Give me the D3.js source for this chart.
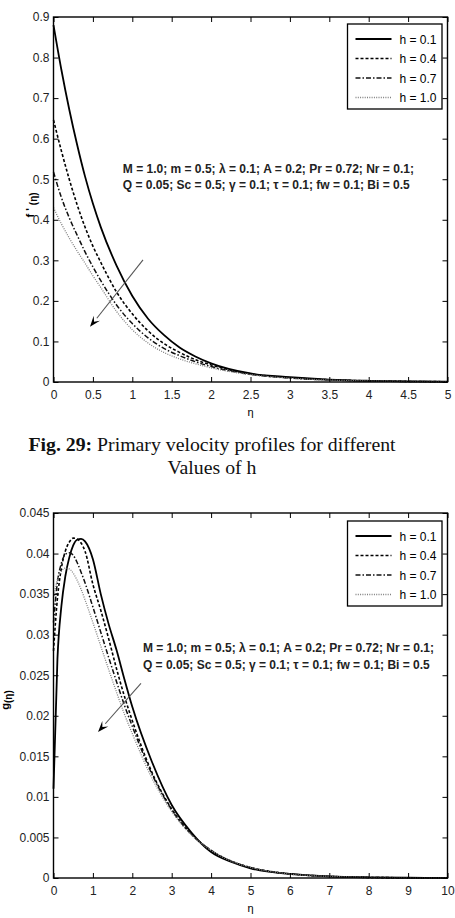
<!DOCTYPE html>
<html>
<head>
<meta charset="utf-8">
<script src="https://cdn.jsdelivr.net/npm/d3@7"></script>
<style>
body { margin: 0; background: #fff; }
svg { display: block; }
.tick text { font-family: "Liberation Sans", Arial, sans-serif; font-size: 12px; fill: #222; }
</style>
</head>
<body>
<svg id="chart" width="455" height="918"></svg>
<script>
// eta grids
const etaTop = [0, 0.1, 0.2, 0.3, 0.4, 0.5, 0.6, 0.8, 1.0, 1.2, 1.4, 1.6, 1.8, 2.0, 2.5, 3.0, 3.5, 4.0, 4.5, 5.0];
const etaBot = [0, 0.1, 0.2, 0.3, 0.4, 0.5, 0.6, 0.7, 0.8, 1.0, 1.2, 1.4, 1.6, 1.8, 2.0, 2.5, 3.0, 3.5, 4.0, 4.5, 5.0, 6.0, 7.0, 8.0, 9.0, 10.0];

const hLabels = ["h = 0.1", "h = 0.4", "h = 0.7", "h = 1.0"];

// primary velocity f'(eta)
const fp_h01 = [0.88, 0.77, 0.672, 0.585, 0.507, 0.44, 0.382, 0.287, 0.212, 0.156, 0.116, 0.085, 0.063, 0.046, 0.021, 0.012, 0.006, 0.003, 0.0014, 0.0007];
const fp_h04 = [0.646, 0.57, 0.50, 0.437, 0.382, 0.335, 0.295, 0.222, 0.168, 0.126, 0.095, 0.073, 0.055, 0.042, 0.020, 0.0105, 0.0055, 0.0028, 0.0014, 0.0007];
const fp_h07 = [0.518, 0.455, 0.405, 0.362, 0.321, 0.284, 0.25, 0.19, 0.144, 0.109, 0.083, 0.065, 0.050, 0.038, 0.019, 0.0098, 0.005, 0.0026, 0.0013, 0.0007];
const fp_h10 = [0.43, 0.39, 0.355, 0.323, 0.293, 0.262, 0.233, 0.174, 0.129, 0.096, 0.073, 0.057, 0.045, 0.035, 0.018, 0.0093, 0.0048, 0.0025, 0.0012, 0.0006];

// secondary velocity g(eta)
const g_h01 = [0.011, 0.027, 0.0335, 0.0372, 0.0395, 0.0410, 0.0417, 0.0418, 0.0415, 0.0393, 0.0350, 0.0313, 0.0281, 0.0245, 0.0211, 0.0143, 0.0090, 0.0056, 0.0032, 0.0020, 0.0012, 0.0005, 0.0002, 0.00008, 0.00003, 0.00001];
const g_h04 = [0.028, 0.0345, 0.0382, 0.0403, 0.0414, 0.0419, 0.0418, 0.0413, 0.0403, 0.0362, 0.0330, 0.0295, 0.0258, 0.0224, 0.0194, 0.0130, 0.0085, 0.0054, 0.0034, 0.0021, 0.0013, 0.0005, 0.0002, 0.00007, 0.00003, 0.00001];
const g_h07 = [0.0315, 0.0365, 0.0388, 0.0399, 0.0401, 0.0398, 0.0389, 0.0377, 0.0364, 0.0334, 0.0303, 0.0272, 0.0242, 0.0213, 0.0187, 0.0128, 0.0084, 0.0054, 0.0034, 0.0021, 0.0013, 0.0005, 0.0002, 0.00007, 0.00003, 0.00001];
const g_h10 = [0.0345, 0.0368, 0.0378, 0.0382, 0.0381, 0.0376, 0.0367, 0.0356, 0.0343, 0.0315, 0.0286, 0.0257, 0.0229, 0.0202, 0.0178, 0.0123, 0.0082, 0.0053, 0.0034, 0.0021, 0.0013, 0.0005, 0.0002, 0.00007, 0.00003, 0.00001];

const topXTicks = [0, 0.5, 1, 1.5, 2, 2.5, 3, 3.5, 4, 4.5, 5];
const topYTicks = [0, 0.1, 0.2, 0.3, 0.4, 0.5, 0.6, 0.7, 0.8, 0.9];
const botXTicks = [0, 1, 2, 3, 4, 5, 6, 7, 8, 9, 10];
const botYTicks = [0, 0.005, 0.01, 0.015, 0.02, 0.025, 0.03, 0.035, 0.04, 0.045];

const paramLine1 = "M = 1.0; m = 0.5; λ = 0.1; A = 0.2; Pr = 0.72; Nr = 0.1;";
const paramLine2 = "Q = 0.05; Sc = 0.5; γ = 0.1; τ = 0.1; fw = 0.1; Bi = 0.5";

// line styles per h
const styles = [
  { stroke: "#000", width: 1.8, dash: null },
  { stroke: "#000", width: 1.6, dash: "3,2" },
  { stroke: "#111", width: 1.5, dash: "5,2,1.5,2" },
  { stroke: "#808080", width: 1.3, dash: "1,1.3" }
];

const svg = d3.select('#chart');

function drawPanel(opt) {
  const x = d3.scaleLinear().domain(opt.xDomain).range([53.5, 447.5]);
  const y = d3.scaleLinear().domain(opt.yDomain).range([opt.bottom, opt.top]);
  const g = svg.append('g');

  // curves
  const line = d3.line().x((d, i) => x(opt.eta[i])).y(d => y(d)).curve(d3.curveMonotoneX);
  opt.series.forEach((s, i) => {
    g.append('path')
      .attr('d', line(s))
      .attr('fill', 'none')
      .attr('stroke', styles[i].stroke)
      .attr('stroke-width', styles[i].width)
      .attr('stroke-dasharray', styles[i].dash);
  });

  // axes, ticks inward on all sides
  const fmt = d => String(d);
  g.append('g').attr('transform', `translate(0,${opt.bottom})`)
    .call(d3.axisBottom(x).tickValues(opt.xTicks).tickSize(-5).tickPadding(8).tickFormat(fmt));
  g.append('g').attr('transform', `translate(0,${opt.top})`)
    .call(d3.axisTop(x).tickValues(opt.xTicks).tickSize(-5).tickFormat(''));
  g.append('g').attr('transform', 'translate(53.5,0)')
    .call(d3.axisLeft(y).tickValues(opt.yTicks).tickSize(-5).tickPadding(4).tickFormat(fmt));
  g.append('g').attr('transform', 'translate(447.5,0)')
    .call(d3.axisRight(y).tickValues(opt.yTicks).tickSize(-5).tickFormat(''));
  g.selectAll('.domain').remove();
  g.selectAll('.tick line').attr('stroke', '#000').attr('stroke-width', 1);

  g.append('rect')
    .attr('x', 53.5).attr('y', opt.top)
    .attr('width', 394).attr('height', opt.bottom - opt.top)
    .attr('fill', 'none').attr('stroke', '#000').attr('stroke-width', 1.4);

  // x label
  g.append('text')
    .attr('x', x((opt.xDomain[0] + opt.xDomain[1]) / 2)).attr('y', opt.bottom + 34)
    .attr('text-anchor', 'middle')
    .style('font-family', 'Liberation Sans, Arial, sans-serif').style('font-size', '11px')
    .text('η');

  // y label
  const yl = g.append('text')
    .attr('transform', `translate(${opt.yLabelX},${opt.yLabelY}) rotate(-90)`)
    .attr('text-anchor', 'middle')
    .style('font-family', 'Liberation Sans, Arial, sans-serif').style('font-size', '11px')
    .style('font-weight', 'bold');
  yl.append('tspan').text(opt.yLabel);
  yl.append('tspan').attr('dy', 3).style('font-size', '10px').text('(η)');

  // legend
  const lx = 347.5, ly = opt.top + opt.legendOffset;
  g.append('rect').attr('x', lx).attr('y', ly).attr('width', 94.5).attr('height', 85)
    .attr('fill', '#fff').attr('stroke', '#000').attr('stroke-width', 1.3);
  hLabels.forEach((lab, i) => {
    const yy = ly + 15 + i * 19.5;
    g.append('line').attr('x1', lx + 8).attr('x2', lx + 44).attr('y1', yy).attr('y2', yy)
      .attr('stroke', styles[i].stroke).attr('stroke-width', styles[i].width)
      .attr('stroke-dasharray', styles[i].dash);
    g.append('text').attr('x', lx + 52).attr('y', yy + 4.5)
      .style('font-family', 'Liberation Sans, Arial, sans-serif').style('font-size', '12px')
      .text(lab);
  });

  // parameter text
  const tx = x(opt.textAt[0]), ty = y(opt.textAt[1]);
  [paramLine1, paramLine2].forEach((t, i) => {
    g.append('text').attr('x', tx).attr('y', ty + i * opt.textGap)
      .style('font-family', 'Liberation Sans, Arial, sans-serif').style('font-size', '12px')
      .style('font-weight', 'bold').attr('fill', '#222')
      .text(t);
  });

  // arrow
  const a = opt.arrow;
  const x1 = x(a[0]), y1 = y(a[1]), x2 = x(a[2]), y2 = y(a[3]);
  const ang = Math.atan2(y2 - y1, x2 - x1);
  const L = 11, W = 4;
  const bx = x2 - L * Math.cos(ang), by = y2 - L * Math.sin(ang);
  g.append('line').attr('x1', x1).attr('y1', y1).attr('x2', bx).attr('y2', by)
    .attr('stroke', '#555').attr('stroke-width', 1.1);
  g.append('path')
    .attr('d', `M${x2},${y2} L${bx - W * Math.sin(ang)},${by + W * Math.cos(ang)} L${x2 - 0.6 * L * Math.cos(ang)},${y2 - 0.6 * L * Math.sin(ang)} L${bx + W * Math.sin(ang)},${by - W * Math.cos(ang)} Z`)
    .attr('fill', '#000');
}

drawPanel({
  top: 17, bottom: 382,
  xDomain: [0, 5], yDomain: [0, 0.9],
  xTicks: topXTicks, yTicks: topYTicks,
  eta: etaTop, series: [fp_h01, fp_h04, fp_h07, fp_h10],
  yLabel: "f ' ", yLabelX: 34, yLabelY: 205,
  legendOffset: 7,
  textAt: [0.88, 0.515], textGap: 16,
  arrow: [1.136, 0.301, 0.463, 0.136]
});

drawPanel({
  top: 513, bottom: 878,
  xDomain: [0, 10], yDomain: [0, 0.045],
  xTicks: botXTicks, yTicks: botYTicks,
  eta: etaBot, series: [g_h01, g_h04, g_h07, g_h10],
  yLabel: "g", yLabelX: 9, yLabelY: 700,
  legendOffset: 8,
  textAt: [2.27, 0.0279], textGap: 17,
  arrow: [2.22, 0.024, 1.13, 0.018]
});

// caption
const cap = svg.append('text').attr('x', 212).attr('y', 451).attr('text-anchor', 'middle')
  .style('font-family', 'Liberation Serif, Times New Roman, serif').style('font-size', '19.8px').attr('fill', '#111');
cap.append('tspan').style('font-weight', 'bold').text('Fig. 29:');
cap.append('tspan').text(' Primary velocity profiles for different');
svg.append('text').attr('x', 212).attr('y', 474).attr('text-anchor', 'middle')
  .style('font-family', 'Liberation Serif, Times New Roman, serif').style('font-size', '19.8px').attr('fill', '#111')
  .text('Values of h');
</script>
</body>
</html>
